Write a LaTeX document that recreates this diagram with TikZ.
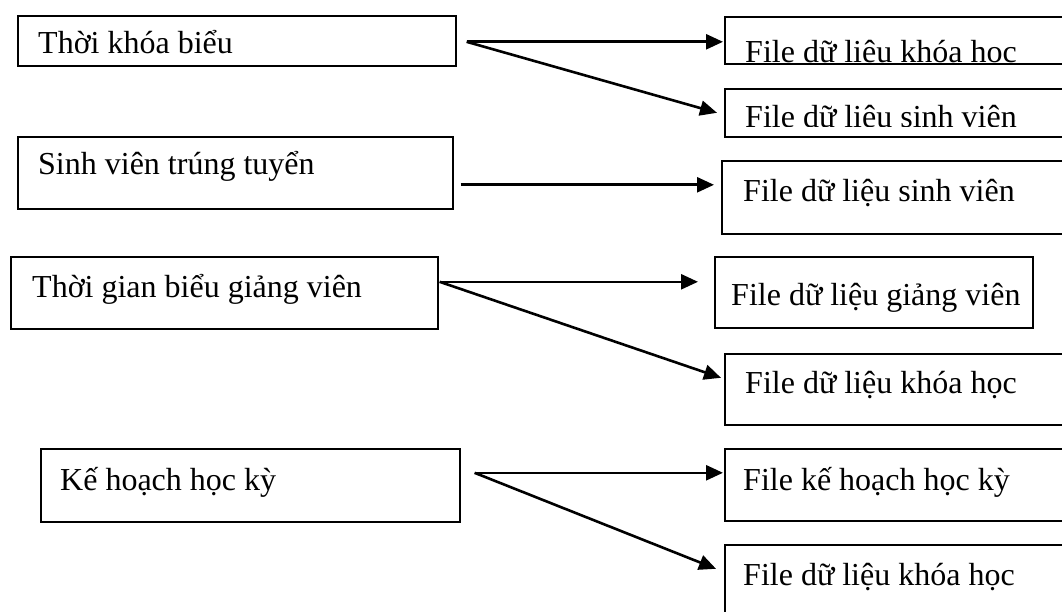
\documentclass[tikz,border=0pt]{standalone}
\usepackage{fontspec}
\setmainfont{Liberation Serif}
\usepackage{tikz}
\usetikzlibrary{arrows.meta}
\tikzset{>=latex}
\tikzset{
  box/.style={draw, line width=1.6pt, rectangle, anchor=north west, inner sep=0pt},
  lbl/.style={anchor=base west, inner sep=0pt, font=\fontsize{32}{38}\selectfont},
  arr/.style={line width=2.6pt, -{Triangle[length=17pt,width=15pt]}}
}

\begin{document}
\begin{tikzpicture}[x=1pt, y=-1pt]
\useasboundingbox (0,0) rectangle (1062,612);
\clip (0,0) rectangle (1062,612);

% input boxes (left)
\foreach \name/\x/\y/\w/\h in
{L1/17/15/438/50, L2/17/136/435/72, L3/10/256/427/72, L4/40/448/419/73}
\node[box, minimum width=\w pt, minimum height=\h pt] (\name) at (\x,\y) {};

% file boxes (right)
\foreach \name/\x/\y/\w/\h in
{R1/724/16/360/47, R2/724/88/360/48, R3/721/160/360/73, R4/714/256/318/71,
 R5/724/353/360/71, R6/724/448/360/72, R7/724/544/360/72}
\node[box, minimum width=\w pt, minimum height=\h pt] (\name) at (\x,\y) {};

% texts
\foreach \name/\x/\y/\descr in
{tL1/38/54/Thời khóa biểu, tL2/38/175/Sinh viên trúng tuyển,
 tL3/32/298/Thời gian biểu giảng viên, tL4/60/490/Kế hoạch học kỳ,
 tR3/743/202/File dữ liệu sinh viên, tR4/731/305/File dữ liệu giảng viên,
 tR5/745/393/File dữ liệu khóa học, tR6/743/490/File kế hoạch học kỳ,
 tR7/743/585/File dữ liệu khóa học}
\node[lbl] (\name) at (\x,\y) {\descr};

% texts cut off by their box
\begin{scope}
\clip (R1.north west) rectangle ([yshift=1pt]R1.south east);
\node[lbl] (tR1) at (745,63) {File dữ liệu khóa học};
\end{scope}
\begin{scope}
\clip (R2.north west) rectangle ([yshift=11pt]R2.south east);
\node[lbl] (tR2) at (745,128) {File dữ liệu sinh viên};
\end{scope}

% arrows
\coordinate (s1) at ([xshift=10pt,yshift=-1pt]L1.east);
\draw[arr] (s1) -- ([xshift=-1pt,yshift=-1.5pt]R1.west);
\draw[arr] (s1) -- ([xshift=-7pt]R2.west);

\draw[arr] ([xshift=7pt,yshift=-12pt]L2.east) -- ([xshift=-7pt,yshift=12.5pt]R3.west);

\coordinate (s3) at ([xshift=1pt,yshift=11pt]L3.east);
\draw[arr] (s3) -- ([xshift=-16pt,yshift=10.5pt]R4.west);
\draw[arr] (s3) -- ([xshift=-3pt,yshift=11.5pt]R5.west);

\coordinate (s4) at ([xshift=14pt,yshift=12.5pt]L4.east);
\draw[arr] (s4) -- ([xshift=-1pt,yshift=12pt]R6.west);
\draw[arr] (s4) -- ([xshift=-8pt,yshift=12pt]R7.west);
\end{tikzpicture}
\end{document}
